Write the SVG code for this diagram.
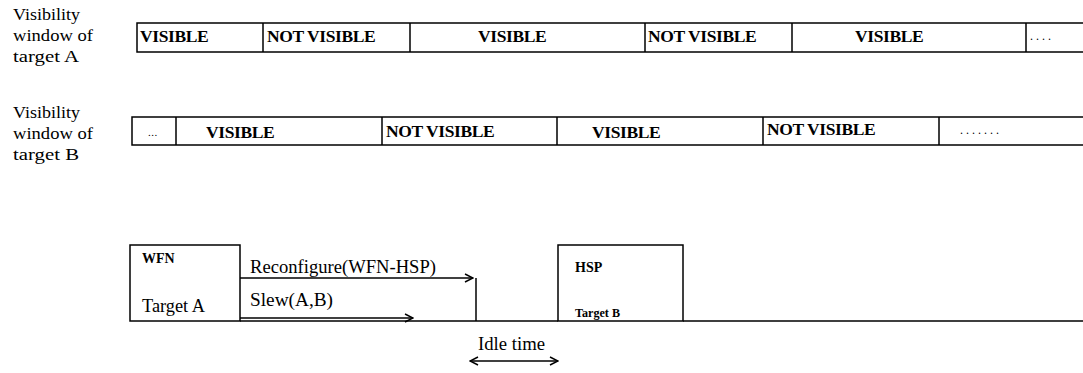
<svg xmlns="http://www.w3.org/2000/svg" width="1083" height="373" viewBox="0 0 1083 373">
<style>
.lbl{font-family:"Liberation Serif",serif;font-size:17.5px;fill:#000}
.cell{font-family:"Liberation Serif",serif;font-size:17.5px;font-weight:bold;fill:#000;letter-spacing:-0.4px}
.ln{stroke:#000;stroke-width:1.5;fill:none}
.txt{font-family:"Liberation Serif",serif;font-size:18px;fill:#000}
.bt{font-family:"Liberation Serif",serif;font-size:14px;font-weight:bold;fill:#000}
.dots{font-family:"Liberation Serif",serif;font-size:12px;fill:#000;letter-spacing:3px}
</style>
<defs>
<marker id="ah" markerWidth="10" markerHeight="10" refX="9" refY="5" orient="auto-start-reverse" markerUnits="userSpaceOnUse"><path d="M1,1 L9,5 L1,9" fill="none" stroke="#000" stroke-width="1.5"/></marker>
</defs>
<g id="label-a">
<text class="lbl" x="13" y="20" textLength="67" lengthAdjust="spacingAndGlyphs">Visibility</text>
<text class="lbl" x="13" y="41" textLength="80" lengthAdjust="spacingAndGlyphs">window of</text>
<text class="lbl" x="13" y="62" textLength="66" lengthAdjust="spacingAndGlyphs">target A</text>
</g>
<g id="label-b">
<text class="lbl" x="13" y="118" textLength="67" lengthAdjust="spacingAndGlyphs">Visibility</text>
<text class="lbl" x="13" y="139" textLength="80" lengthAdjust="spacingAndGlyphs">window of</text>
<text class="lbl" x="13" y="160" textLength="66" lengthAdjust="spacingAndGlyphs">target B</text>
</g>
<g id="row-a">
<path class="ln" d="M1083,23 H137 V52 H1083 M263,23 V52 M410,23 V52 M645,23 V52 M792,23 V52 M1026,23 V52"/>
<text class="cell" x="140" y="42">VISIBLE</text>
<text class="cell" x="267" y="42">NOT VISIBLE</text>
<text class="cell" x="478" y="42">VISIBLE</text>
<text class="cell" x="648" y="42">NOT VISIBLE</text>
<text class="cell" x="855" y="42">VISIBLE</text>
<text class="dots" x="1030" y="40">....</text>
</g>
<g id="row-b">
<path class="ln" d="M1083,117 H132 V145 H1083 M176,117 V145 M382,117 V145 M557,117 V145 M763,117 V145 M939,117 V145"/>
<text class="dots" x="148" y="136" style="font-size:11px;letter-spacing:0.5px">...</text>
<text class="cell" x="206" y="138">VISIBLE</text>
<text class="cell" x="386" y="137">NOT VISIBLE</text>
<text class="cell" x="592" y="138">VISIBLE</text>
<text class="cell" x="767" y="135">NOT VISIBLE</text>
<text class="dots" x="960" y="134">.......</text>
</g>
<g id="wfn">
<rect class="ln" x="130" y="245" width="110" height="76"/>
<text class="bt" x="142" y="263">WFN</text>
<text class="txt" x="142" y="312" textLength="63" lengthAdjust="spacingAndGlyphs">Target A</text>
</g>
<g id="hsp">
<rect class="ln" x="558" y="245" width="125" height="76"/>
<text class="bt" x="575" y="272">HSP</text>
<text class="txt" x="575" y="317" style="font-size:13px;font-weight:bold" textLength="45" lengthAdjust="spacingAndGlyphs">Target B</text>
</g>
<g id="connectors">
<path class="ln" d="M240,321 H558 M683,321 H1083"/>
<path class="ln" d="M476,278 V321"/>
<line class="ln" x1="240" y1="278" x2="473" y2="278" marker-end="url(#ah)"/>
<line class="ln" x1="240" y1="318" x2="413" y2="318" marker-end="url(#ah)"/>
<line class="ln" x1="470" y1="361" x2="558" y2="361" marker-start="url(#ah)" marker-end="url(#ah)"/>
<text class="txt" x="250" y="273" textLength="186" lengthAdjust="spacingAndGlyphs">Reconfigure(WFN-HSP)</text>
<text class="txt" x="250" y="306" textLength="83" lengthAdjust="spacingAndGlyphs">Slew(A,B)</text>
<text class="txt" x="478" y="350" textLength="67" lengthAdjust="spacingAndGlyphs">Idle time</text>
</g>
</svg>
